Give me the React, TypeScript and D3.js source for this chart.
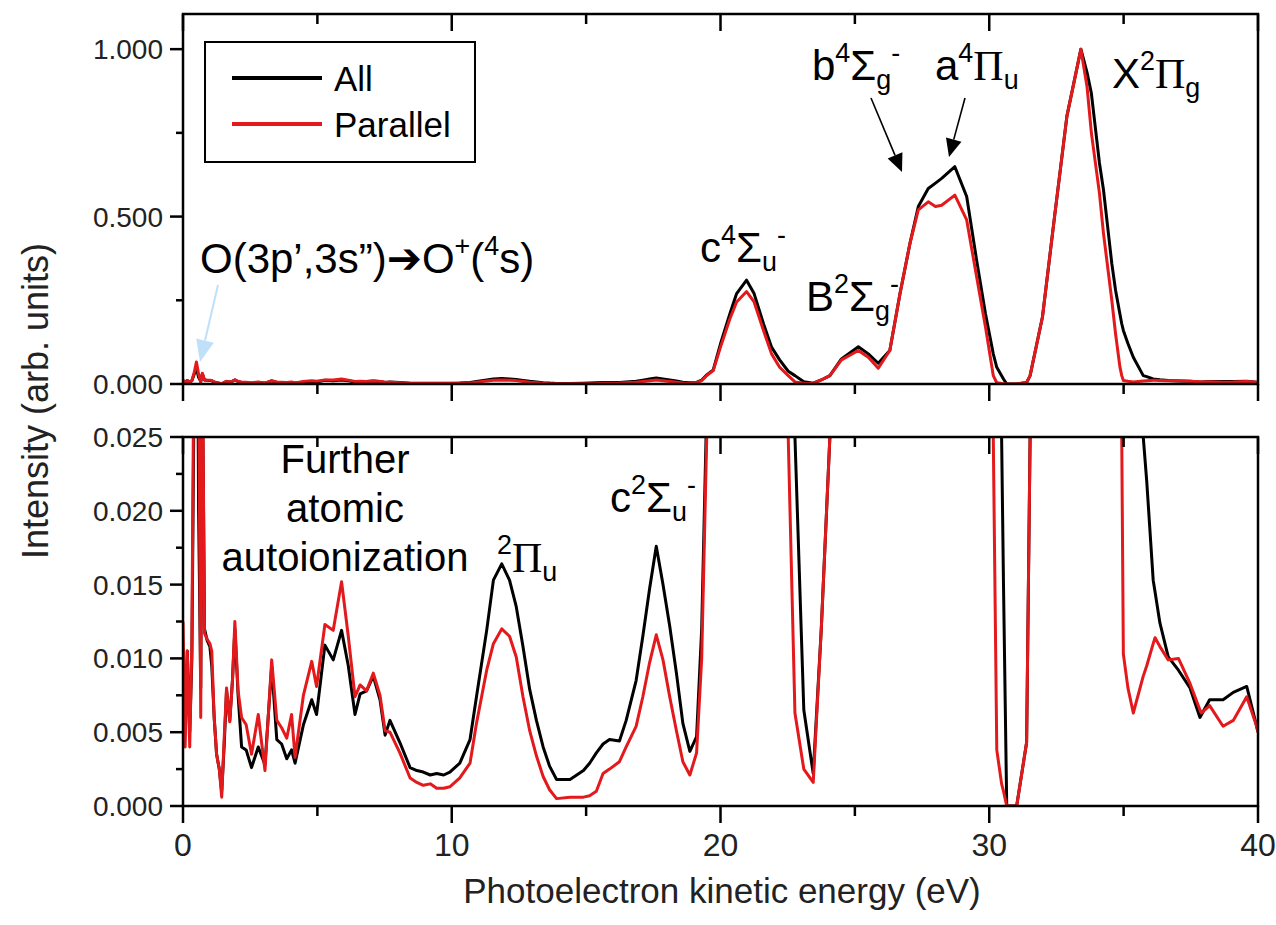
import React from 'react'
import * as d3 from 'd3'

// photoelectron kinetic energy (eV)
const energy = [
  0.0, 0.08, 0.16, 0.25, 0.33, 0.42, 0.5, 0.58, 0.66, 0.72, 0.8, 0.9, 1.0, 1.07, 1.16, 1.25, 1.35, 1.44,
  1.53, 1.62, 1.74, 1.84, 1.93, 2.05, 2.18, 2.35, 2.55, 2.8, 3.05, 3.3, 3.49, 3.67, 3.86, 4.04, 4.17,
  4.48, 4.79, 4.97, 5.28, 5.59, 5.9, 6.15, 6.4, 6.59, 6.83, 7.08, 7.33, 7.52, 7.7, 8.07, 8.45, 8.7,
  8.94, 9.2, 9.44, 9.7, 9.93, 10.3, 10.68, 10.92, 11.3, 11.55, 11.86, 12.15, 12.4, 12.65, 12.9, 13.15,
  13.4, 13.64, 13.9, 14.4, 14.9, 15.13, 15.38, 15.63, 15.87, 16.24, 16.49, 16.86, 17.11, 17.36, 17.61,
  17.86, 18.11, 18.36, 18.6, 18.86, 19.11, 19.3, 19.5, 19.73, 20.0, 20.35, 20.6, 20.97, 21.25, 21.6,
  21.9, 22.2, 22.52, 22.77, 23.1, 23.45, 23.75, 24.07, 24.5, 25.13, 25.5, 25.87, 26.3, 26.68, 27.05,
  27.36, 27.73, 28.0, 28.23, 28.72, 29.16, 29.53, 29.86, 30.15, 30.28, 30.46, 30.53, 30.65, 31.02,
  31.39, 31.52, 31.98, 32.43, 32.89, 33.41, 33.64, 33.8, 34.1, 34.25, 34.56, 34.7, 34.86, 34.93, 34.99,
  35.16, 35.36, 35.73, 35.86, 36.1, 36.17, 36.35, 36.66, 37.04, 37.47, 37.84, 37.9, 38.2, 38.7, 39.08,
  39.58, 39.95, 40.0,
]

const intensityAll = [
  0.004, 0.006, 0.0105, 0.005, 0.01, 0.03, 0.048, 0.02, 0.008, 0.03, 0.012, 0.0112, 0.0108, 0.0095,
  0.006, 0.0035, 0.0025, 0.001, 0.004, 0.0078, 0.0058, 0.0085, 0.012, 0.0075, 0.004, 0.0038, 0.0026,
  0.004, 0.0028, 0.0095, 0.0045, 0.0042, 0.0032, 0.0038, 0.0029, 0.0055, 0.0072, 0.0062, 0.0109,
  0.0099, 0.0119, 0.0095, 0.0062, 0.0076, 0.0078, 0.0088, 0.0072, 0.0048, 0.0058, 0.0043, 0.0026,
  0.0024, 0.0023, 0.0021, 0.0022, 0.0021, 0.0023, 0.0029, 0.0045, 0.0074, 0.0119, 0.0153, 0.0164,
  0.0153, 0.0135, 0.0108, 0.0079, 0.0058, 0.004, 0.0027, 0.0018, 0.0018, 0.0024, 0.0029, 0.0036,
  0.0042, 0.0045, 0.0044, 0.0058, 0.0085, 0.0115, 0.0147, 0.0176, 0.015, 0.0122, 0.009, 0.0056,
  0.0037, 0.0047, 0.012, 0.028, 0.042, 0.12, 0.21, 0.27, 0.31, 0.27, 0.18, 0.11, 0.072, 0.038, 0.025,
  0.0065, 0.0022, 0.012, 0.025, 0.075, 0.111, 0.09, 0.062, 0.1, 0.27, 0.42, 0.53, 0.584, 0.6, 0.614,
  0.649, 0.56, 0.37, 0.21, 0.09, 0.05, 0.025, 0.015, 0.0, 0.0, 0.0043, 0.025, 0.2, 0.5, 0.8, 1.0,
  0.93, 0.868, 0.66, 0.58, 0.36, 0.28, 0.21, 0.18, 0.16, 0.121, 0.08, 0.025, 0.022, 0.0153, 0.0145,
  0.0124, 0.0101, 0.0092, 0.008, 0.006, 0.0062, 0.0072, 0.0072, 0.0077, 0.0081, 0.0054, 0.005,
]

const intensityParallel = [
  0.0125, 0.004, 0.0105, 0.004, 0.011, 0.035, 0.066, 0.03, 0.006, 0.032, 0.0117, 0.0113, 0.011,
  0.0105, 0.006, 0.0035, 0.0025, 0.0006, 0.0045, 0.008, 0.0057, 0.0085, 0.0125, 0.0078, 0.006,
  0.0055, 0.0035, 0.0062, 0.0024, 0.0099, 0.0058, 0.0053, 0.0046, 0.0062, 0.0033, 0.0075, 0.0098,
  0.0081, 0.0123, 0.0119, 0.0152, 0.0115, 0.0074, 0.0082, 0.0078, 0.009, 0.0075, 0.0051, 0.005,
  0.0036, 0.0019, 0.0016, 0.0014, 0.0015, 0.0012, 0.0012, 0.0013, 0.0019, 0.0029, 0.0056, 0.0092,
  0.011, 0.012, 0.0115, 0.0101, 0.0074, 0.0051, 0.0034, 0.002, 0.0011, 0.0005, 0.0006, 0.0006,
  0.0007, 0.001, 0.0022, 0.0025, 0.003, 0.004, 0.0054, 0.0074, 0.0097, 0.0116, 0.0099, 0.0074,
  0.0051, 0.003, 0.0021, 0.0036, 0.01, 0.026, 0.04, 0.11, 0.195, 0.245, 0.276, 0.245, 0.16, 0.09,
  0.05, 0.025, 0.0063, 0.0025, 0.0016, 0.012, 0.025, 0.072, 0.1, 0.08, 0.047, 0.1, 0.27, 0.42, 0.52,
  0.544, 0.53, 0.534, 0.564, 0.49, 0.32, 0.17, 0.025, 0.0038, 0.0015, 0.001, 0.0, 0.0, 0.0043, 0.025,
  0.2, 0.5, 0.8, 1.0, 0.887, 0.75, 0.57, 0.45, 0.25, 0.15, 0.052, 0.025, 0.0103, 0.008, 0.0063,
  0.0088, 0.0095, 0.011, 0.0114, 0.0108, 0.0099, 0.01, 0.0083, 0.0065, 0.0063, 0.0068, 0.0054,
  0.0058, 0.0074, 0.0054, 0.005,
]

const seriesNames = ['All', 'Parallel']
const seriesColors = ['#000000', '#e3191c']

const xMajor = [0, 10, 20, 30, 40]
const xMinor = [5, 15, 25, 35]
const topMajor = [0, 0.5, 1.0]
const topMinor = [0.25, 0.75]
const bottomMajor = [0, 0.005, 0.01, 0.015, 0.02, 0.025]
const bottomMinor = [0.0025, 0.0075, 0.0125, 0.0175, 0.0225]

const SANS = 'Liberation Sans, Arial, sans-serif'
const SERIF = 'Liberation Serif, Times New Roman, serif'

const left = 183
const right = 1258
const topPanel = { top: 14, bottom: 384 }
const botPanel = { top: 437, bottom: 806 }

const x = d3.scaleLinear().domain([0, 40]).range([left, right])
const yTop = d3.scaleLinear().domain([0, 1.105]).range([topPanel.bottom, topPanel.top])
const yBot = d3.scaleLinear().domain([0, 0.025]).range([botPanel.bottom, botPanel.top])

const fmt = d3.format('.3f')

type Seg = { t: string; s?: 'sup' | 'sub'; font?: string }

function Rich({ x: tx, y: ty, segs, size }: { x: number; y: number; segs: Seg[]; size: number }) {
  let prev = 0
  return (
    <text x={tx} y={ty} fontSize={size} fontFamily={SANS}>
      {segs.map((g, i) => {
        const shift = g.s === 'sup' ? -0.42 * size : g.s === 'sub' ? 0.22 * size : 0
        const dy = shift - prev
        prev = shift
        return (
          <tspan key={i} dy={dy} fontSize={g.s ? size * 0.64 : size} fontFamily={g.font || SANS}>
            {g.t}
          </tspan>
        )
      })}
    </text>
  )
}

function Arrow({ x1, y1, x2, y2, color, head = 18, width = 16, sw = 1.6 }: any) {
  const ang = Math.atan2(y2 - y1, x2 - x1)
  const bx = x2 - head * Math.cos(ang)
  const by = y2 - head * Math.sin(ang)
  const px = (width / 2) * Math.sin(ang)
  const py = (width / 2) * Math.cos(ang)
  return (
    <g>
      <line x1={x1} y1={y1} x2={bx} y2={by} stroke={color} strokeWidth={sw} />
      <polygon points={`${x2},${y2} ${bx + px},${by - py} ${bx - px},${by + py}`} fill={color} />
    </g>
  )
}

function Panel({ y, top, bottom, major, minor, labels, clipId }: any) {
  const series = [intensityAll, intensityParallel]
  const line = d3
    .line<number>()
    .x((_, i) => x(energy[i]))
    .y((d) => y(d))
  return (
    <g>
      <defs>
        <clipPath id={clipId}>
          <rect x={left} y={top} width={right - left} height={bottom - top} />
        </clipPath>
      </defs>
      <g clipPath={`url(#${clipId})`}>
        {series.map((s, k) => (
          <path key={k} d={line(s) || ''} fill="none" stroke={seriesColors[k]} strokeWidth={3} strokeLinejoin="round" />
        ))}
      </g>
      <rect x={left} y={top} width={right - left} height={bottom - top} fill="none" stroke="#000" strokeWidth={2.5} />
      {xMajor.map((v) => (
        <g key={'xm' + v}>
          <line x1={x(v)} x2={x(v)} y1={bottom} y2={bottom + 17} stroke="#000" strokeWidth={2.5} />
          <line x1={x(v)} x2={x(v)} y1={top} y2={top + 17} stroke="#000" strokeWidth={2.5} />
        </g>
      ))}
      {xMinor.map((v) => (
        <g key={'xn' + v}>
          <line x1={x(v)} x2={x(v)} y1={bottom} y2={bottom + 10} stroke="#000" strokeWidth={2.5} />
          <line x1={x(v)} x2={x(v)} y1={top} y2={top + 10} stroke="#000" strokeWidth={2.5} />
        </g>
      ))}
      {major.map((v: number) => (
        <g key={'ym' + v}>
          <line x1={left - 13} x2={left} y1={y(v)} y2={y(v)} stroke="#000" strokeWidth={2.5} />
          <text x={left - 20} y={y(v)} dy="0.36em" textAnchor="end" fontSize={28} fontFamily={SANS} fill="#222">
            {fmt(v)}
          </text>
        </g>
      ))}
      {minor.map((v: number) => (
        <line key={'yn' + v} x1={left - 7} x2={left} y1={y(v)} y2={y(v)} stroke="#000" strokeWidth={2.5} />
      ))}
      {labels &&
        xMajor.map((v) => (
          <text key={'xl' + v} x={x(v)} y={bottom + 50} textAnchor="middle" fontSize={32} fontFamily={SANS} fill="#222">
            {v}
          </text>
        ))}
    </g>
  )
}

export default function App() {
  const S = 42
  return (
    <svg width={1276} height={925} style={{ position: 'absolute', left: 0, top: 0, background: '#fff' }}>
      <rect width={1276} height={925} fill="#fff" />
      <Panel y={yTop} top={topPanel.top} bottom={topPanel.bottom} major={topMajor} minor={topMinor} clipId="clipTop" />
      <Panel y={yBot} top={botPanel.top} bottom={botPanel.bottom} major={bottomMajor} minor={bottomMinor} labels clipId="clipBot" />

      {/* legend */}
      <rect x={205} y={42} width={270} height={120} fill="#fff" stroke="#000" strokeWidth={2} />
      {seriesNames.map((n, i) => (
        <g key={n}>
          <line x1={232} x2={322} y1={78 + i * 46} y2={78 + i * 46} stroke={seriesColors[i]} strokeWidth={4} />
          <text x={334} y={78 + i * 46} dy="0.36em" fontSize={35} fontFamily={SANS}>
            {n}
          </text>
        </g>
      ))}

      {/* axis titles */}
      <text x={722} y={903} textAnchor="middle" fontSize={35} fontFamily={SANS} fill="#222">
        Photoelectron kinetic energy (eV)
      </text>
      <text transform="translate(48,401) rotate(-90)" textAnchor="middle" fontSize={36} fontFamily={SANS} fill="#222">
        Intensity (arb. units)
      </text>

      {/* top panel annotations */}
      <Rich
        x={200}
        y={273}
        size={42}
        segs={[
          { t: 'O(3p’,3s”)' },
          { t: '➔', font: 'DejaVu Sans' },
          { t: 'O' },
          { t: '+', s: 'sup' },
          { t: '(' },
          { t: '4', s: 'sup' },
          { t: 's)' },
        ]}
      />
      <Arrow x1={218} y1={285} x2={200} y2={362} color="#bfe0f8" head={22} width={18} sw={2} />
      <Rich x={700} y={262} size={S} segs={[{ t: 'c' }, { t: '4', s: 'sup' }, { t: 'Σ' }, { t: 'u', s: 'sub' }, { t: '-', s: 'sup' }]} />
      <Rich x={806} y={311} size={S} segs={[{ t: 'B' }, { t: '2', s: 'sup' }, { t: 'Σ' }, { t: 'g', s: 'sub' }, { t: '-', s: 'sup' }]} />
      <Rich x={812} y={80} size={S} segs={[{ t: 'b' }, { t: '4', s: 'sup' }, { t: 'Σ' }, { t: 'g', s: 'sub' }, { t: '-', s: 'sup' }]} />
      <Rich x={935} y={80} size={S} segs={[{ t: 'a' }, { t: '4', s: 'sup' }, { t: 'Π', font: SERIF }, { t: 'u', s: 'sub' }]} />
      <Rich x={1112} y={88} size={S} segs={[{ t: 'X' }, { t: '2', s: 'sup' }, { t: 'Π', font: SERIF }, { t: 'g', s: 'sub' }]} />
      <Arrow x1={871} y1={98} x2={902} y2={172} color="#000" />
      <Arrow x1={965} y1={98} x2={949} y2={157} color="#000" />

      {/* bottom panel annotations */}
      {['Further', 'atomic', 'autoionization'].map((t, i) => (
        <text key={t} x={345} y={473 + i * 49} textAnchor="middle" fontSize={40} fontFamily={SANS}>
          {t}
        </text>
      ))}
      <Rich x={497} y={572} size={S} segs={[{ t: '2', s: 'sup' }, { t: 'Π', font: SERIF }, { t: 'u', s: 'sub' }]} />
      <Rich x={610} y={512} size={S} segs={[{ t: 'c' }, { t: '2', s: 'sup' }, { t: 'Σ' }, { t: 'u', s: 'sub' }, { t: '-', s: 'sup' }]} />
    </svg>
  )
}
